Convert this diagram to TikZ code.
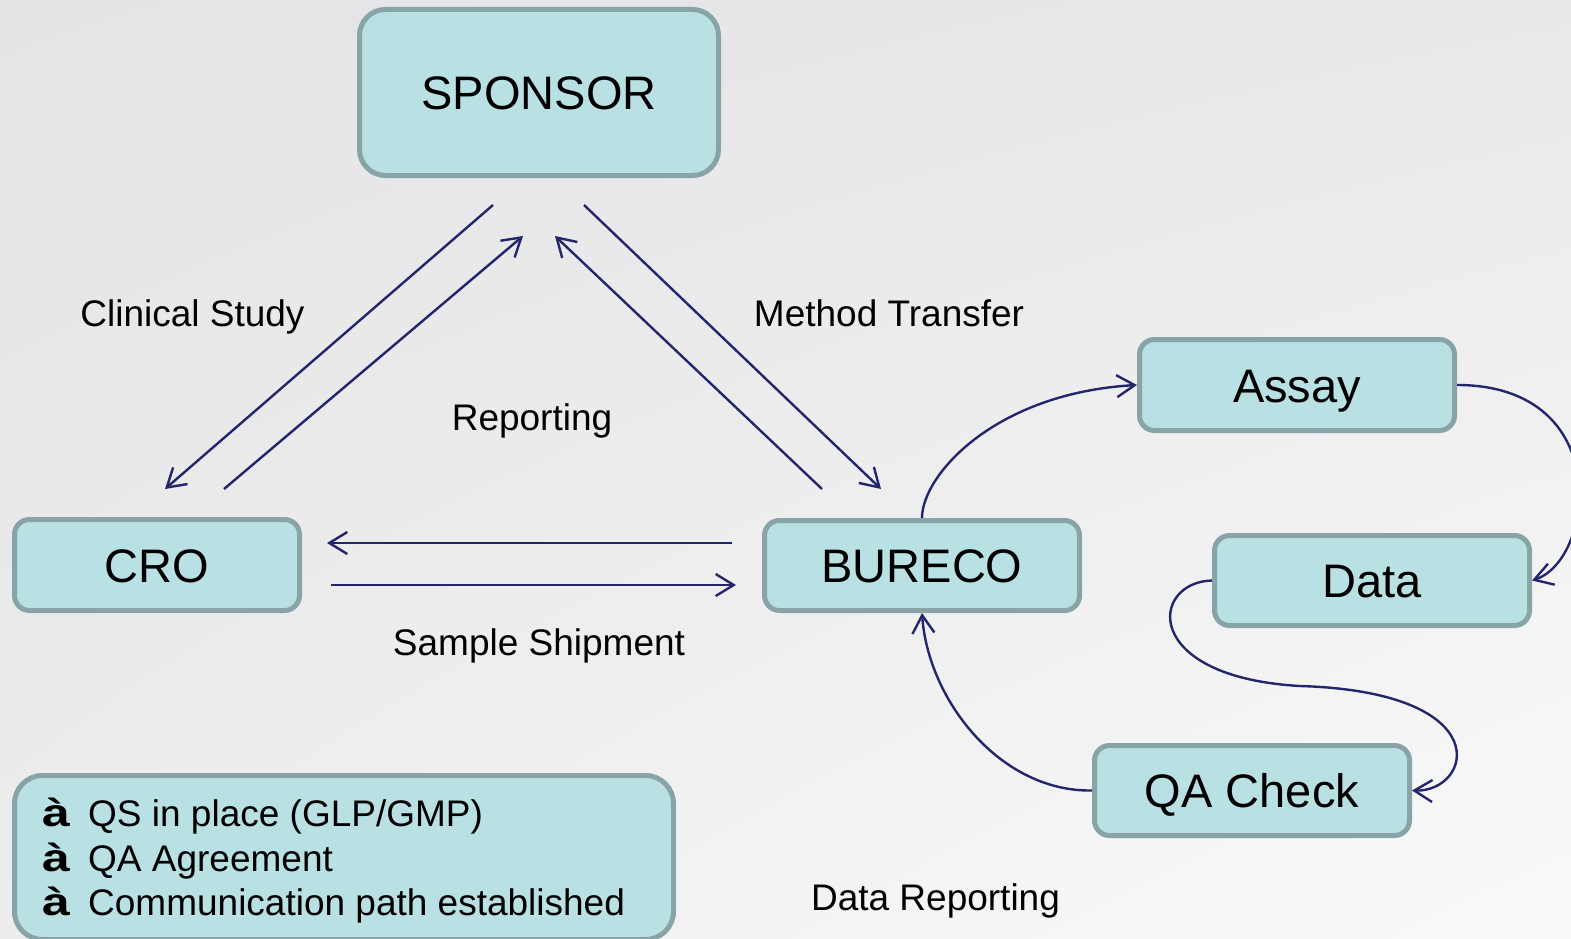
\documentclass[tikz,border=0pt]{standalone}
\usepackage{fontspec}
\usepackage{graphicx}
\setmainfont{Liberation Sans}
\usetikzlibrary{arrows.meta,shadings}
\definecolor{boxfill}{HTML}{B9E0E3}
\definecolor{boxline}{HTML}{88A4A7}
\definecolor{arrowc}{HTML}{23266B}
\definecolor{bgA}{HTML}{E4E4E6}
\definecolor{bgB}{HTML}{E9E9EB}
\definecolor{bgC}{HTML}{EDEDED}
\definecolor{bgD}{HTML}{FAFAFA}
\begin{document}
\begin{tikzpicture}[x=1pt,y=-1pt,
  box/.style={draw=boxline, line width=5pt, fill=boxfill, rounded corners=15pt, inner sep=0pt,
    font=\fontsize{47}{56}\selectfont, text height=34pt, text depth=0pt},
  conn/.style={draw=arrowc, line width=2.4pt, -{Straight Barb[length=18pt,width=22pt]}},
  lab/.style={font=\fontsize{37}{44}\selectfont, anchor=base, inner sep=0pt},
  bul/.style={font=\fontsize{37}{44}\selectfont, anchor=base west, inner sep=0pt},
]
\useasboundingbox (0,0) rectangle (1571,939);
\shade[upper left=bgA, upper right=bgB, lower left=bgC, lower right=bgD] (0,0) rectangle (1571,939);

% boxes
\node[box, rounded corners=26pt, minimum width=359pt, minimum height=166pt] (sponsor) at (539,92.5) {SPONSOR};
\node[box, minimum width=285pt, minimum height=91pt] (cro) at (157,565) {CRO};
\node[box, minimum width=315pt, minimum height=90pt] (bureco) at (922,565.5) {BURECO};
\node[box, minimum width=315pt, minimum height=91pt] (assay) at (1297,385) {Assay};
\node[box, minimum width=315pt, minimum height=90pt] (data) at (1372,580.5) {Data};
\node[box, minimum width=315pt, minimum height=90pt] (qa) at (1252,790.5) {QA Check};
\node[box, rounded corners=28pt, minimum width=659pt, minimum height=164pt] (notes) at (344,857.5) {};

% bullet text
\node[bul] (b1a) at (42,826) {\bfseries\scalebox{1.35}[1.05]{à}};
\node[bul] (b1) at (88,826) {QS in place (GLP/GMP)};
\node[bul] (b2a) at (42,871) {\bfseries\scalebox{1.35}[1.05]{à}};
\node[bul] (b2) at (88,871) {QA Agreement};
\node[bul] (b3a) at (42,915) {\bfseries\scalebox{1.35}[1.05]{à}};
\node[bul] (b3) at (88,915) {Communication path established};

% labels
\node[lab] (lclin) at (192.5,326) {Clinical Study};
\node[lab] (lmeth) at (889,326) {Method Transfer};
\node[lab] (lrep) at (532,430) {Reporting};
\node[lab] (lship) at (539,655) {Sample Shipment};
\node[lab] (ldrep) at (935.5,910) {Data Reporting};

% straight connector end points
\coordinate (s1) at (493,205);
\coordinate (c1) at (165,489);
\coordinate (c2) at (224,489);
\coordinate (s2) at (523,236);
\coordinate (bb1) at (822,489);
\coordinate (s3) at (555,236);
\coordinate (s4) at (584,205);
\coordinate (bb2) at (881,489);
\coordinate (bb3) at (732,543);
\coordinate (c3) at (327,543);
\coordinate (c4) at (331,585);
\coordinate (bb4) at (736,585);
\coordinate (mid) at (1300,686);

\draw[conn] (s1) -- (c1);
\draw[conn] (c2) -- (s2);
\draw[conn] (bb1) -- (s3);
\draw[conn] (s4) -- (bb2);
\draw[conn] (bb3) -- (c3);
\draw[conn] (c4) -- (bb4);

% curved connectors
\draw[conn] (bureco.north) .. controls (922,475) and (995,393) .. (assay.west);
\draw[conn] (assay.east) .. controls (1615,385) and (1595,560) .. (data.east);
\draw[conn] (data.west) .. controls (1150,582) and (1140,677) .. (mid) .. controls (1500,692) and (1472,792) .. (qa.east);
\draw[conn] (qa.west) .. controls (1000,792) and (928,700) .. (bureco.south);
\end{tikzpicture}
\end{document}
